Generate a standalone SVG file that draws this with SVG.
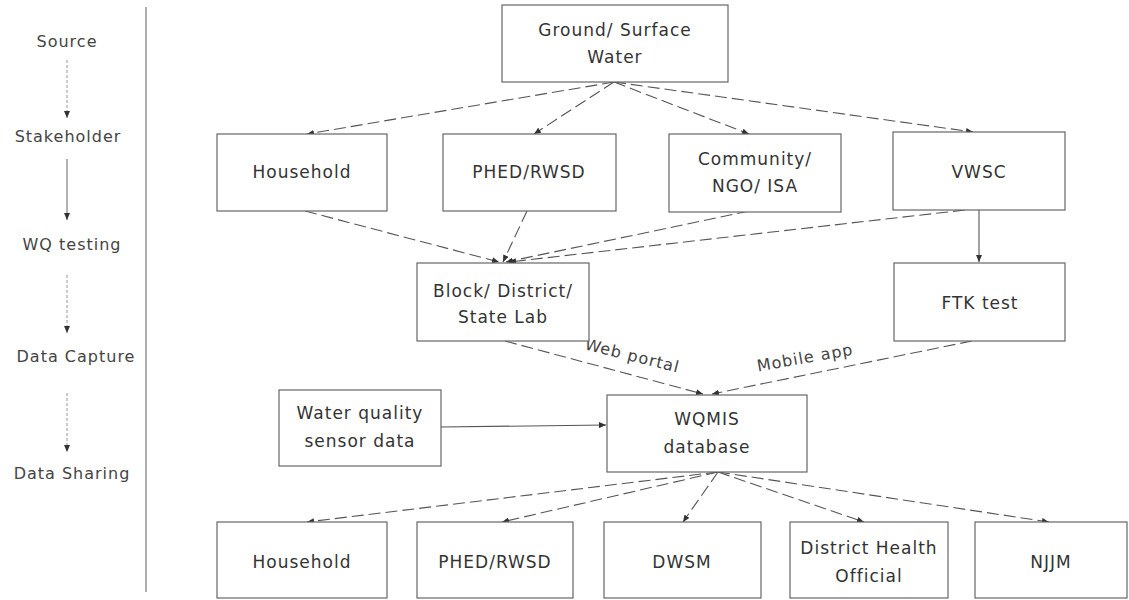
<svg xmlns="http://www.w3.org/2000/svg" width="1129" height="600" viewBox="0 0 1129 600">
<style>
.box{fill:#fff;stroke:#666;stroke-width:1.2}
.t{font-family:"DejaVu Sans","Liberation Sans",sans-serif;font-size:17px;fill:#333;text-anchor:middle;letter-spacing:1px}
.lt{font-family:"DejaVu Sans","Liberation Sans",sans-serif;font-size:16px;fill:#444;text-anchor:middle;letter-spacing:1px}
.dl{fill:none;stroke:#555;stroke-width:1.1;stroke-dasharray:12 5}
.sl{fill:none;stroke:#555;stroke-width:1.1}
.ll{fill:none;stroke:#999;stroke-width:1;stroke-dasharray:3 2}
.ls{fill:none;stroke:#666;stroke-width:1}
</style>
<defs>
<marker id="ah" markerUnits="userSpaceOnUse" markerWidth="8" markerHeight="6" refX="7" refY="3" orient="auto">
<path d="M0,0 L7,3 L0,6 z" fill="#333"/>
</marker>
</defs>
<rect width="1129" height="600" fill="#fff"/>

<g id="stages">
<text class="lt" x="67" y="47">Source</text>
<text class="lt" x="68" y="142">Stakeholder</text>
<text class="lt" x="72" y="250">WQ testing</text>
<text class="lt" x="76" y="362">Data Capture</text>
<text class="lt" x="72" y="479">Data Sharing</text>
<line x1="146" y1="7" x2="146" y2="592" stroke="#777" stroke-width="1.2"/>
<line class="ll" x1="67" y1="60" x2="67" y2="118" marker-end="url(#ah)"/>
<line class="ls" x1="67" y1="159" x2="67" y2="220" marker-end="url(#ah)"/>
<line class="ll" x1="67" y1="275" x2="67" y2="333" marker-end="url(#ah)"/>
<line class="ll" x1="67" y1="393" x2="67" y2="452" marker-end="url(#ah)"/>
</g>

<g id="connectors">
<line class="dl" x1="614" y1="82" x2="307" y2="134" marker-end="url(#ah)"/>
<line class="dl" x1="614" y1="82" x2="534" y2="134" marker-end="url(#ah)"/>
<line class="dl" x1="614" y1="82" x2="749" y2="134" marker-end="url(#ah)"/>
<line class="dl" x1="614" y1="82" x2="973" y2="132" marker-end="url(#ah)"/>
<line class="dl" x1="305" y1="211" x2="499" y2="262" marker-end="url(#ah)"/>
<line class="dl" x1="527" y1="211" x2="503" y2="262" marker-end="url(#ah)"/>
<line class="dl" x1="749" y1="211" x2="506" y2="262" marker-end="url(#ah)"/>
<line class="dl" x1="965" y1="210" x2="509" y2="262" marker-end="url(#ah)"/>
<line class="sl" x1="979" y1="210" x2="979" y2="262" marker-end="url(#ah)"/>
<line class="dl" x1="505" y1="341" x2="703" y2="394" marker-end="url(#ah)"/>
<line class="dl" x1="972" y1="341" x2="712" y2="394" marker-end="url(#ah)"/>
<line class="sl" x1="441" y1="427" x2="606" y2="425" marker-end="url(#ah)"/>
<line class="dl" x1="718" y1="472" x2="307" y2="522" marker-end="url(#ah)"/>
<line class="dl" x1="718" y1="472" x2="502" y2="522" marker-end="url(#ah)"/>
<line class="dl" x1="718" y1="472" x2="683" y2="522" marker-end="url(#ah)"/>
<line class="dl" x1="718" y1="472" x2="864" y2="522" marker-end="url(#ah)"/>
<line class="dl" x1="718" y1="472" x2="1049" y2="522" marker-end="url(#ah)"/>
<text class="lt" x="631" y="361" transform="rotate(14 631 361)">Web portal</text>
<text class="lt" x="806" y="363" transform="rotate(-10 806 363)">Mobile app</text>
</g>

<g id="source">
<rect class="box" x="502" y="5" width="226" height="77"/>
<text class="t" x="615" y="36">Ground/ Surface</text>
<text class="t" x="615" y="63">Water</text>
</g>
<g id="sh-household">
<rect class="box" x="217" y="134" width="170" height="77"/>
<text class="t" x="302" y="178">Household</text>
</g>
<g id="sh-phed">
<rect class="box" x="443" y="134" width="173" height="77"/>
<text class="t" x="529" y="178">PHED/RWSD</text>
</g>
<g id="sh-community">
<rect class="box" x="669" y="134" width="172" height="78"/>
<text class="t" x="755" y="165">Community/</text>
<text class="t" x="755" y="192">NGO/ ISA</text>
</g>
<g id="sh-vwsc">
<rect class="box" x="893" y="132" width="172" height="78"/>
<text class="t" x="979" y="178">VWSC</text>
</g>
<g id="lab">
<rect class="box" x="417" y="263" width="172" height="78"/>
<text class="t" x="503" y="297">Block/ District/</text>
<text class="t" x="503" y="323">State Lab</text>
</g>
<g id="ftk">
<rect class="box" x="894" y="263" width="171" height="78"/>
<text class="t" x="980" y="309">FTK test</text>
</g>
<g id="sensor">
<rect class="box" x="279" y="390" width="162" height="76"/>
<text class="t" x="360" y="419">Water quality</text>
<text class="t" x="360" y="447">sensor data</text>
</g>
<g id="wqmis">
<rect class="box" x="607" y="395" width="200" height="77"/>
<text class="t" x="707" y="425">WQMIS</text>
<text class="t" x="707" y="453">database</text>
</g>
<g id="ds-household">
<rect class="box" x="217" y="522" width="170" height="76"/>
<text class="t" x="302" y="568">Household</text>
</g>
<g id="ds-phed">
<rect class="box" x="417" y="522" width="156" height="76"/>
<text class="t" x="495" y="568">PHED/RWSD</text>
</g>
<g id="ds-dwsm">
<rect class="box" x="604" y="522" width="157" height="76"/>
<text class="t" x="682" y="568">DWSM</text>
</g>
<g id="ds-dho">
<rect class="box" x="790" y="522" width="158" height="76"/>
<text class="t" x="869" y="554">District Health</text>
<text class="t" x="869" y="582">Official</text>
</g>
<g id="ds-njjm">
<rect class="box" x="975" y="522" width="152" height="76"/>
<text class="t" x="1051" y="568">NJJM</text>
</g>
</svg>
